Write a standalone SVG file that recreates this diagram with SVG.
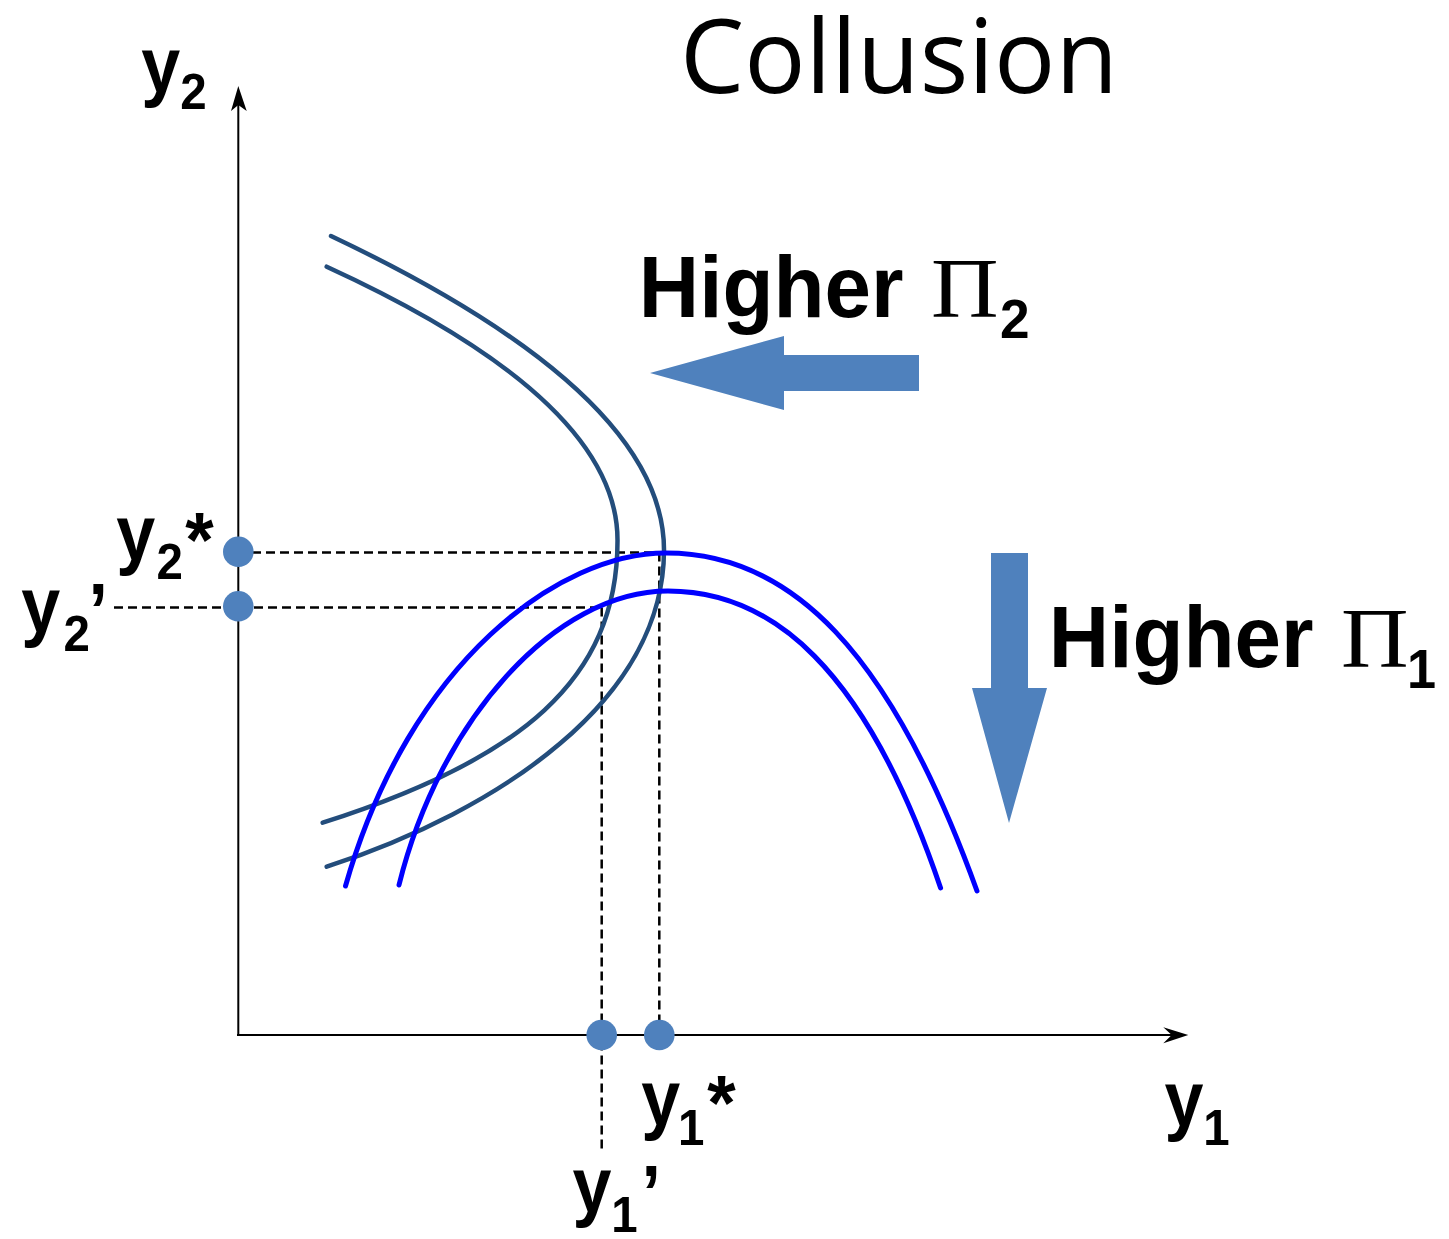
<svg xmlns="http://www.w3.org/2000/svg" width="1449" height="1239" viewBox="0 0 1449 1239">
<style>
.ax{stroke:#000;stroke-width:2;fill:none}
.dash{stroke:#000;stroke-width:2.5;fill:none;stroke-dasharray:9 5}
.dk{stroke:#234d7c;stroke-width:4.5;fill:none;stroke-linecap:round}
.bl{stroke:#0000ff;stroke-width:5;fill:none;stroke-linecap:round}
.dot{fill:#4f81bd}
.arr{fill:#4f81bd}
.b{font-family:"Liberation Sans",Arial,sans-serif;font-weight:bold;fill:#000}
.pi{font-family:"Liberation Serif","Times New Roman",serif;fill:#000}
.title{font-family:"Open Sans","Liberation Sans",sans-serif;fill:#000}
</style>
<rect width="1449" height="1239" fill="#fff"/>
<g id="title"><text class="title" x="680" y="93" font-size="102">Collusion</text></g>
<g id="connectors">
<line class="ax" x1="238.3" y1="1035" x2="238.3" y2="100"/>
<polygon points="238.3,86 246.7,111 238.3,105 231,111" fill="#000"/>
<line class="ax" x1="237" y1="1035" x2="1175" y2="1035"/>
<polygon points="1188.3,1035 1163.3,1043.3 1171.7,1035 1163.3,1027.3" fill="#000"/>
<line class="dash" x1="238" y1="552.5" x2="659.3" y2="552.5"/>
<line class="dash" x1="114" y1="607.5" x2="601.7" y2="607.5"/>
<line class="dash" x1="601.7" y1="607.5" x2="601.7" y2="1153"/>
<line class="dash" x1="659.3" y1="552.5" x2="659.3" y2="1035"/>
</g>
<g id="curves">
<path class="dk" d="M331,236 Q664,393.5 664,550 C664,700 500,810 326.7,866.7"/>
<path class="dk" d="M326.7,266.7 Q617.5,400 617.5,540 C618,680 520,760 322.7,822.7"/>
<path class="bl" d="M345.5,886 C410,660 560,553 666,553 C790,553 890,650 977,891"/>
<path class="bl" d="M399,885 C440,720 555,591 668,591 C770,591 865,665 940.6,888"/>
</g>
<g id="dots">
<circle class="dot" cx="238.3" cy="551.7" r="15.3"/>
<circle class="dot" cx="238.3" cy="606.3" r="15.3"/>
<circle class="dot" cx="601.7" cy="1035" r="15.3"/>
<circle class="dot" cx="659.3" cy="1035" r="15.3"/>
</g>
<g id="arrow-pi2"><polygon class="arr" points="650,373 784,336 784,355 919,355 919,391 784,391 784,410"/></g>
<g id="arrow-pi1"><polygon class="arr" points="991,553 1028,553 1028,688 1047,688 1009,823 972,688 991,688"/></g>
<g id="label-higher-pi2">
<text class="b" font-size="87" transform="translate(638.8,317.3) scale(0.961,1)">Higher</text>
<text class="pi" font-size="85" transform="translate(931,317.3) scale(1.1,1)">Π</text>
<text class="b" font-size="56" transform="translate(1000,338) scale(0.95,1)">2</text>
</g>
<g id="label-higher-pi1">
<text class="b" font-size="87" transform="translate(1048.8,667.3) scale(0.961,1)">Higher</text>
<text class="pi" font-size="85" transform="translate(1341,667.3) scale(1.1,1)">Π</text>
<text class="b" font-size="55" transform="translate(1407,688.3) scale(0.95,1)">1</text>
</g>
<g id="label-y2-axis">
<text class="b" font-size="77" transform="translate(141.2,91.7) scale(0.91,1)">y</text>
<text class="b" font-size="50" transform="translate(180.3,109) scale(0.95,1)">2</text>
</g>
<g id="label-y2-star">
<text class="b" font-size="77" transform="translate(116.2,560) scale(0.91,1)">y</text>
<text class="b" font-size="50" transform="translate(156.6,579) scale(0.95,1)">2</text>
<text class="b" font-size="77" transform="translate(185.3,566.8) scale(0.95,1)">*</text>
</g>
<g id="label-y2-prime">
<text class="b" font-size="77" transform="translate(21.2,631.7) scale(0.91,1)">y</text>
<text class="b" font-size="50" transform="translate(63.6,650.7) scale(0.95,1)">2</text>
<text class="b" font-size="77" transform="translate(88.5,638) scale(0.91,1)">’</text>
</g>
<g id="label-y1-star">
<text class="b" font-size="77" transform="translate(641.2,1125) scale(0.91,1)">y</text>
<text class="b" font-size="50" transform="translate(678,1145) scale(0.95,1)">1</text>
<text class="b" font-size="77" transform="translate(707.3,1130) scale(0.95,1)">*</text>
</g>
<g id="label-y1-prime">
<text class="b" font-size="77" transform="translate(572.5,1211.7) scale(0.91,1)">y</text>
<text class="b" font-size="50" transform="translate(611.3,1231.7) scale(0.95,1)">1</text>
<text class="b" font-size="77" transform="translate(641.5,1220) scale(0.91,1)">’</text>
</g>
<g id="label-y1-axis">
<text class="b" font-size="77" transform="translate(1164.5,1126) scale(0.91,1)">y</text>
<text class="b" font-size="50" transform="translate(1203.3,1145) scale(0.95,1)">1</text>
</g>
</svg>
